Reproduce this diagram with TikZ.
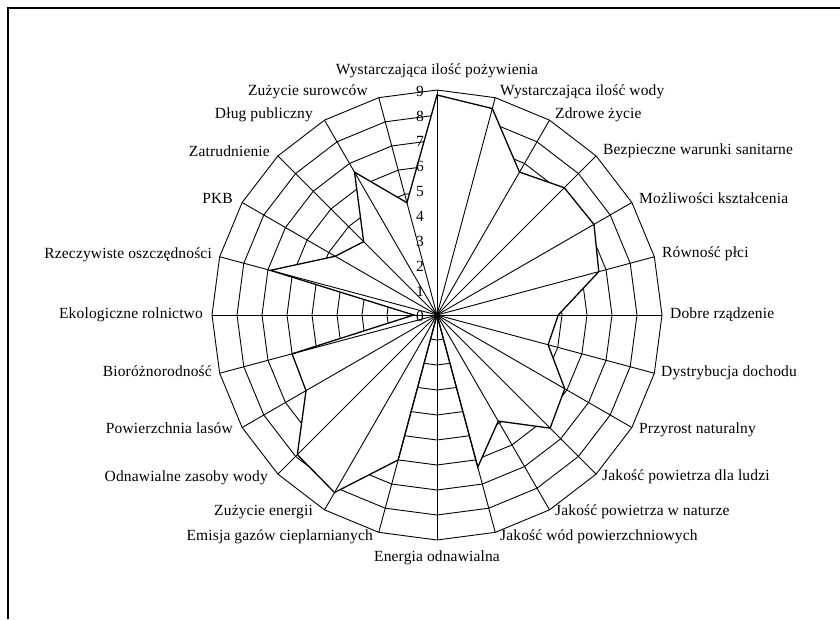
\documentclass[tikz,border=0pt]{standalone}
\usepackage{fontspec}
\setmainfont{Liberation Serif}[LetterSpace=1.0]
\begin{document}
\begin{tikzpicture}[x=1pt,y=-1pt,
  gridline/.style={line width=0.9pt,black},
  datapoly/.style={line width=1.3pt,black,fill=white,line join=miter},
  lab/.style={inner sep=0pt,text height=10pt,text depth=3pt,font=\fontsize{15.5}{18}\selectfont},
  tick/.style={inner sep=0pt,anchor=east,font=\fontsize{15.5}{18}\selectfont}]
\useasboundingbox (0,0) rectangle (840,619);
\draw[line width=1.5pt] (8,619) -- (8,8) -- (840,8);
\begin{scope}[shift={(437,315)}]
  \coordinate (O) at (0,0);
  % rings
  \foreach \r in {1,...,9}{
    \draw[gridline] (-90:{25*\r}) \foreach \k in {1,...,23}{ -- ({15*\k-90}:{25*\r}) } -- cycle;
  }
  % data
  \foreach \v [count=\i from 0] in {8.8,8.55,6.6,7.2,7.25,6.7,4.85,4.6,5.9,6.4,4.9,6.3,0,6.0,8.2,7.9,6.05,6.0,0.93,6.9,4.7,4.15,6.6,4.65}{
    \coordinate (d\i) at ({15*\i-90}:{25*\v});
  }
  \draw[datapoly] (d0) -- (d1) -- (d2) -- (d3) -- (d4) -- (d5) -- (d6) -- (d7) -- (d8) -- (d9) -- (d10) -- (d11) -- (d12) -- (d13) -- (d14) -- (d15) -- (d16) -- (d17) -- (d18) -- (d19) -- (d20) -- (d21) -- (d22) -- (d23) -- cycle;
  % spokes
  \foreach \k in {0,...,23}{
    \coordinate (o\k) at ({15*\k-90}:225);
    \draw[gridline] (O) -- (o\k);
  }
  % ticks
  \foreach \k in {0,...,9}{
    \node[tick] (t\k) at (-13,{-25*\k+1}) {\k};
  }
\end{scope}
% axis labels
\node[lab,anchor=center] (l0) at (437,71) {Wystarczająca ilość pożywienia};
\node[lab,anchor=west] (l1) at (500,92) {Wystarczająca ilość wody};
\node[lab,anchor=west] (l2) at (555,115) {Zdrowe życie};
\node[lab,anchor=west] (l3) at (603,151) {Bezpieczne warunki sanitarne};
\node[lab,anchor=west] (l4) at (639,200) {Możliwości kształcenia};
\node[lab,anchor=west] (l5) at (662,254) {Równość płci};
\node[lab,anchor=west] (l6) at (670,315) {Dobre rządzenie};
\node[lab,anchor=west] (l7) at (661,373) {Dystrybucja dochodu};
\node[lab,anchor=west] (l8) at (639,430) {Przyrost naturalny};
\node[lab,anchor=west] (l9) at (602,477) {Jakość powietrza dla ludzi};
\node[lab,anchor=west] (l10) at (555,512) {Jakość powietrza w naturze};
\node[lab,anchor=west] (l11) at (500,537) {Jakość wód powierzchniowych};
\node[lab,anchor=center] (l12) at (437,558) {Energia odnawialna};
\node[lab,anchor=east] (l13) at (373,537) {Emisja gazów cieplarnianych};
\node[lab,anchor=east] (l14) at (313,512) {Zużycie energii};
\node[lab,anchor=east] (l15) at (268,478) {Odnawialne zasoby wody};
\node[lab,anchor=east] (l16) at (233,430) {Powierzchnia lasów};
\node[lab,anchor=east] (l17) at (212,373) {Bioróżnorodność};
\node[lab,anchor=east] (l18) at (203,315) {Ekologiczne rolnictwo};
\node[lab,anchor=east] (l19) at (212,255) {Rzeczywiste oszczędności};
\node[lab,anchor=east] (l20) at (233,200) {PKB};
\node[lab,anchor=east] (l21) at (270,153) {Zatrudnienie};
\node[lab,anchor=east] (l22) at (313,115) {Dług publiczny};
\node[lab,anchor=east] (l23) at (368,92) {Zużycie surowców};
\end{tikzpicture}
\end{document}
